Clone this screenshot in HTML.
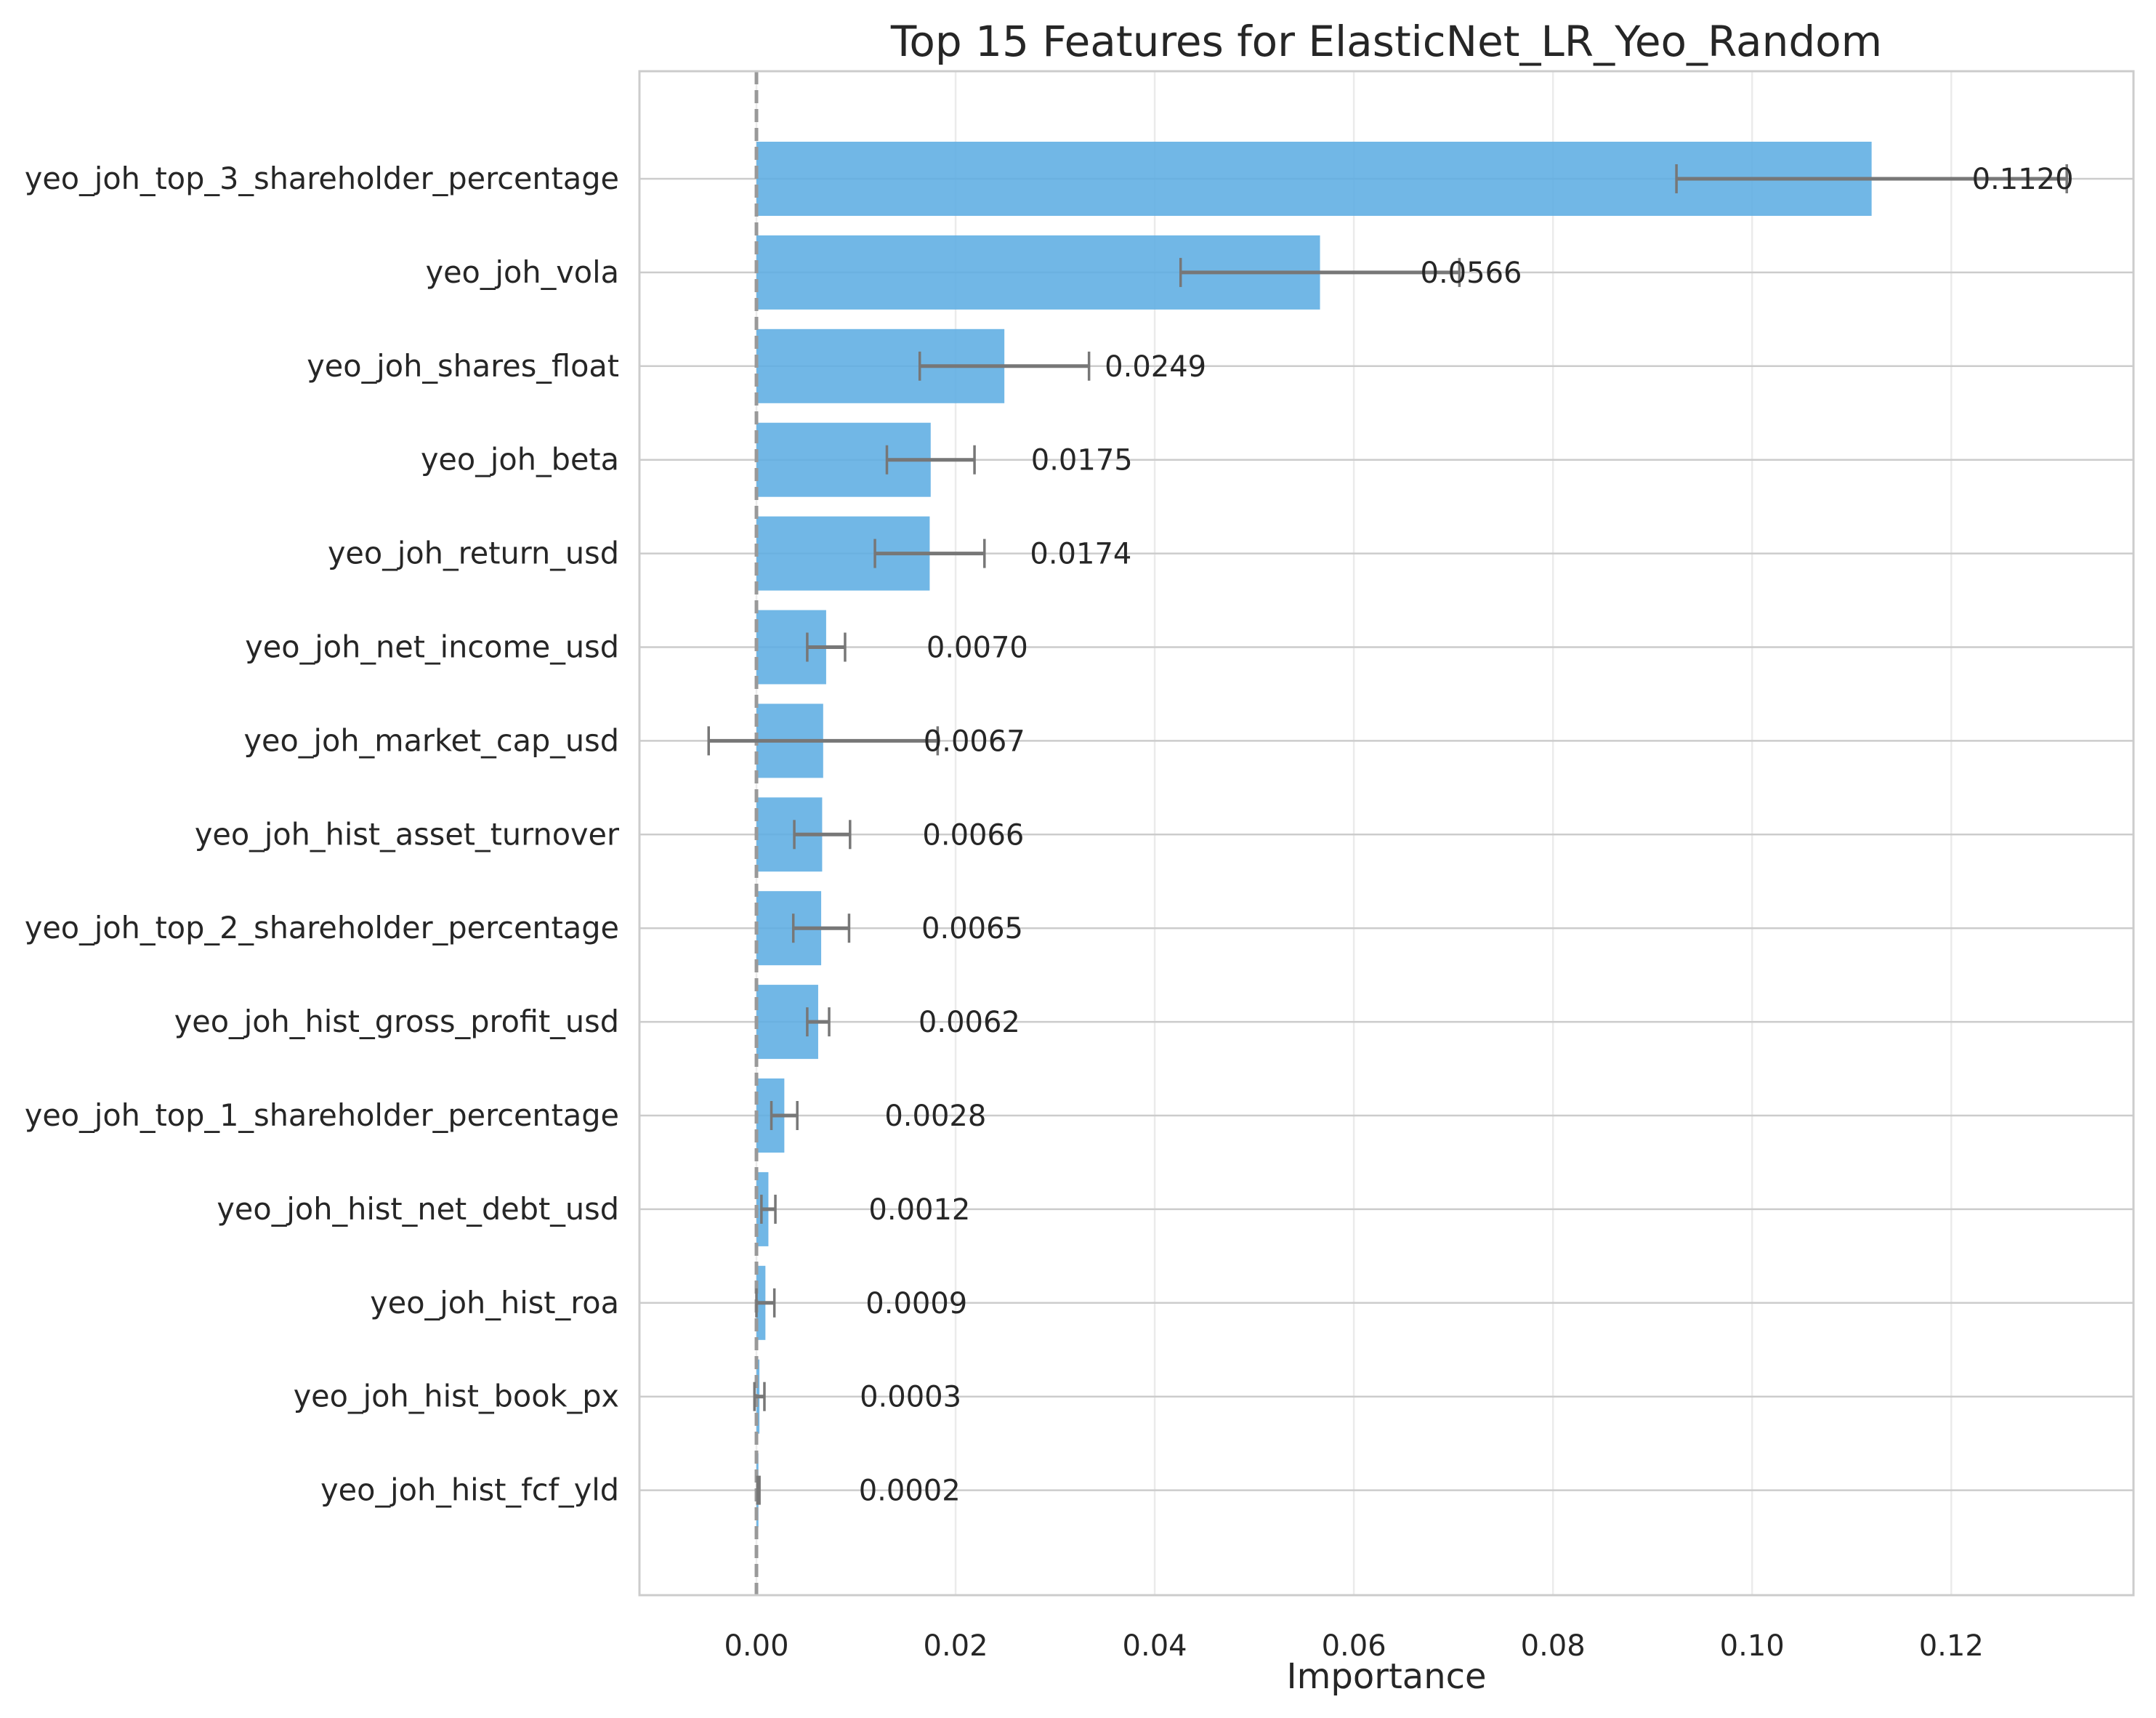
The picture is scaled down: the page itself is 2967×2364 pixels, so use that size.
<!DOCTYPE html>
<html><head><meta charset="utf-8">
<style>
html,body{margin:0;padding:0;background:#fff;}
svg{display:block;font-family:"DejaVu Sans","Liberation Sans",sans-serif;}
</style></head>
<body>
<svg id="chart" width="2967" height="2364" viewBox="0 0 2967 2364" xmlns="http://www.w3.org/2000/svg">
<rect width="2967" height="2364" fill="#fff"/>
<text x="1908" y="77" font-size="58" text-anchor="middle" fill="#262626">Top 15 Features for ElasticNet_LR_Yeo_Random</text>
<text x="1908" y="2323" font-size="48" text-anchor="middle" fill="#262626">Importance</text>
<g id="plot"></g>
</svg>
<script>
const features = ["yeo_joh_top_3_shareholder_percentage","yeo_joh_vola","yeo_joh_shares_float","yeo_joh_beta","yeo_joh_return_usd","yeo_joh_net_income_usd","yeo_joh_market_cap_usd","yeo_joh_hist_asset_turnover","yeo_joh_top_2_shareholder_percentage","yeo_joh_hist_gross_profit_usd","yeo_joh_top_1_shareholder_percentage","yeo_joh_hist_net_debt_usd","yeo_joh_hist_roa","yeo_joh_hist_book_px","yeo_joh_hist_fcf_yld"];
const importances = [0.1120,0.0566,0.0249,0.0175,0.0174,0.0070,0.0067,0.0066,0.0065,0.0062,0.0028,0.0012,0.0009,0.0003,0.0002];
const errors = [0.0196,0.0140,0.0085,0.0044,0.0055,0.0019,0.0115,0.0028,0.0028,0.0011,0.0013,0.0007,0.0009,0.0005,0.0001];
const valueLabels = ["0.1120","0.0566","0.0249","0.0175","0.0174","0.0070","0.0067","0.0066","0.0065","0.0062","0.0028","0.0012","0.0009","0.0003","0.0002"];
const xTicks = [0,0.02,0.04,0.06,0.08,0.10,0.12];
const xTickLabels = ["0.00","0.02","0.04","0.06","0.08","0.10","0.12"];

const L=880,R=2936,T=98,B=2195;
const xmin=-0.01175,xmax=0.1383;
const X=v=>L+(v-xmin)/(xmax-xmin)*(R-L);
const Y=i=>246+i*128.9;
const NS="http://www.w3.org/2000/svg";
const g=document.getElementById('plot');
function mk(tag,attrs,parent){const e=document.createElementNS(NS,tag);for(const k in attrs)e.setAttribute(k,attrs[k]);(parent||g).appendChild(e);return e;}

xTicks.forEach((t,i)=>{
  const l=mk('line',{x1:X(t),x2:X(t),y1:T,y2:B,stroke:'#ebebeb','stroke-width':2.5});
  
  
  const tx=mk('text',{x:X(t),y:2278,'font-size':40,'text-anchor':'middle',fill:'#262626'});
  tx.textContent=xTickLabels[i];
  
  
});
features.forEach((f,i)=>{
  const l=mk('line',{x1:L,x2:R,y1:Y(i),y2:Y(i),stroke:'#cccccc','stroke-width':2.5});
  
  
});
features.forEach((f,i)=>{
  const v=importances[i],y=Y(i);
  const b=mk('rect',{x:X(0),y:y-51,width:Math.max(X(v)-X(0),1),height:102,fill:'#5dade2','fill-opacity':0.88});
  
  
  const lbl=mk('text',{x:852,y:y+14,'font-size':41.4,'text-anchor':'end',fill:'#262626'});
  lbl.textContent=f;
  
  
});
const zl=mk('line',{x1:X(0),x2:X(0),y1:T,y2:B,stroke:'#999999','stroke-width':5,'stroke-dasharray':'18,8'});


features.forEach((f,i)=>{
  const v=importances[i],e=errors[i],y=Y(i);
  const eg=mk('g',{stroke:'#777777','stroke-width':5});
  
  
  mk('line',{x1:X(v-e),x2:X(v+e),y1:y,y2:y},eg);
  mk('line',{x1:X(v-e),x2:X(v-e),y1:y-20,y2:y+20,'stroke-width':3.5},eg);
  mk('line',{x1:X(v+e),x2:X(v+e),y1:y-20,y2:y+20,'stroke-width':3.5},eg);
  const t=mk('text',{x:X(v+0.01007),y:y+14,'font-size':40,fill:'#262626'});
  t.textContent=valueLabels[i];
  
  
});
const fr=mk('rect',{x:L,y:T,width:R-L,height:B-T,fill:'none',stroke:'#cccccc','stroke-width':3});


</script>
</body></html>
